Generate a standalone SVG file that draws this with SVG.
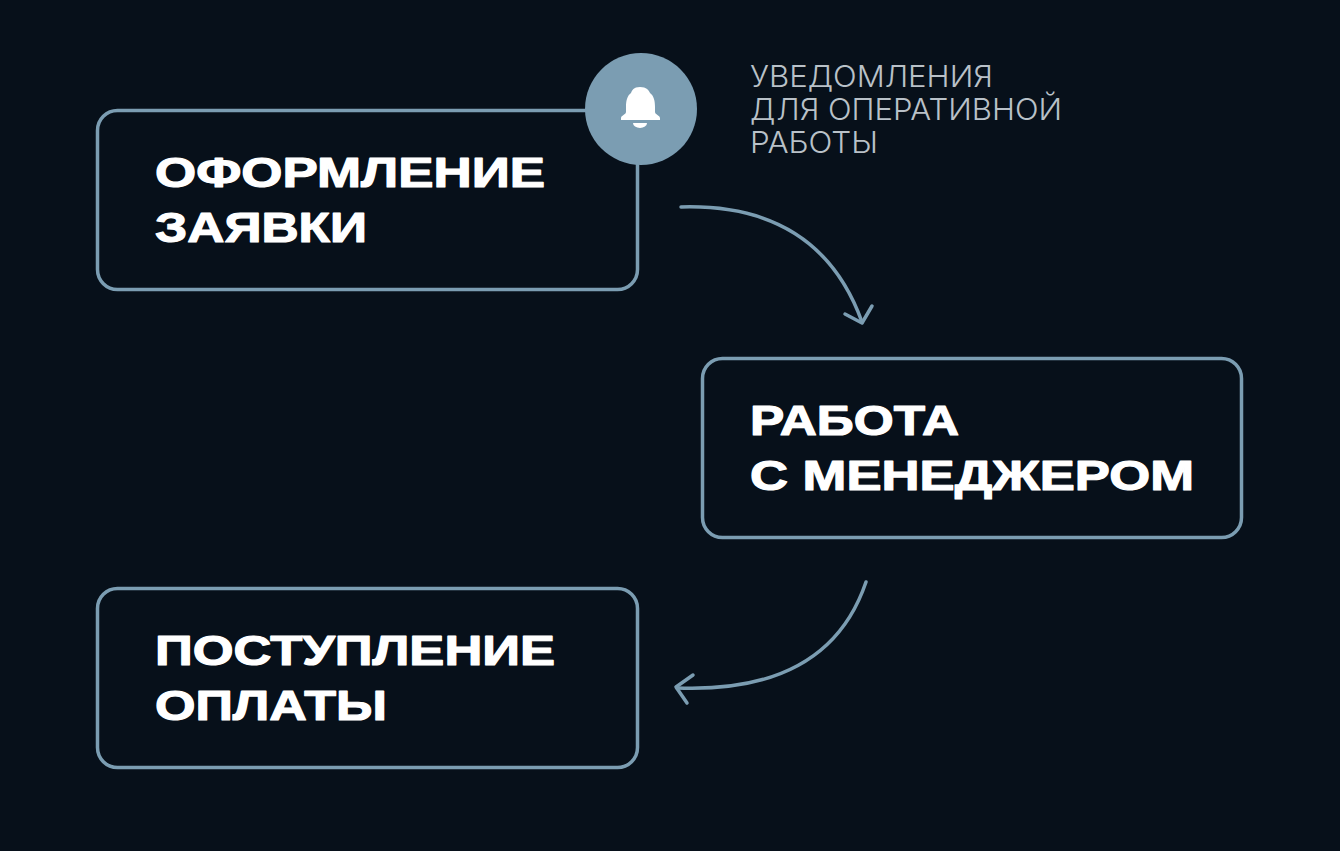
<svg xmlns="http://www.w3.org/2000/svg" width="1340" height="851" viewBox="0 0 1340 851">
  <defs>
    <style>
      .box { fill: #07101a; stroke: #7b9db2; stroke-width: 3.5; }
      .title { font-family: "Liberation Sans", "DejaVu Sans", sans-serif; font-weight: bold; font-size: 43px; fill: #ffffff; stroke: #ffffff; stroke-width: 1.2; stroke-linejoin: round; }
      .note { font-family: "Inter", "Liberation Sans", sans-serif; font-weight: 300; font-size: 30px; fill: #b9c1c8; }
      .conn { fill: none; stroke: #7b9db2; stroke-width: 3.5; stroke-linecap: round; stroke-linejoin: round; }
    </style>
  </defs>
  <rect x="0" y="0" width="1340" height="851" fill="#07101a"/>

  <g id="connectors">
    <path class="conn" d="M681,207 Q819,203 862,322"/>
    <path class="conn" d="M845,314 L862,323 L872,306"/>
    <path class="conn" d="M866,582 Q828,694 677,688"/>
    <path class="conn" d="M693,675 L676,687 L687,703"/>
  </g>

  <g id="node-application">
    <rect class="box" x="97.5" y="110.5" width="540" height="179" rx="20" ry="20"/>
    <text class="title" x="155" y="187" textLength="390" lengthAdjust="spacingAndGlyphs">ОФОРМЛЕНИЕ</text>
    <text class="title" x="155" y="242" textLength="212" lengthAdjust="spacingAndGlyphs">ЗАЯВКИ</text>
  </g>

  <g id="node-notification">
    <circle cx="641" cy="109" r="56" fill="#7b9db2"/>
    <path fill="#ffffff" d="M640,87 C633.5,87 632,90.5 631,93 C627,96 626,101 626,107 L626,112 C626,114.5 621,115.5 621,118 L621,120 L660,120 L660,118 C660,115.5 655,114.5 655,112 L655,107 C655,101 654,96 650,93 C649,90.5 646.5,87 640,87 Z"/>
    <path fill="#ffffff" d="M633,123 L647,123 A7,5 0 0 1 633,123 Z"/>
    <text class="note" x="750" y="87" textLength="243" lengthAdjust="spacingAndGlyphs">УВЕДОМЛЕНИЯ</text>
    <text class="note" x="750" y="120" textLength="312" lengthAdjust="spacingAndGlyphs">ДЛЯ ОПЕРАТИВНОЙ</text>
    <text class="note" x="750" y="153" textLength="128" lengthAdjust="spacingAndGlyphs">РАБОТЫ</text>
  </g>

  <g id="node-manager">
    <rect class="box" x="702.5" y="358.5" width="539" height="179" rx="20" ry="20"/>
    <text class="title" x="750" y="435" textLength="209" lengthAdjust="spacingAndGlyphs">РАБОТА</text>
    <text class="title" x="750" y="490" textLength="444" lengthAdjust="spacingAndGlyphs">С МЕНЕДЖЕРОМ</text>
  </g>

  <g id="node-payment">
    <rect class="box" x="97.5" y="588.5" width="540" height="179" rx="20" ry="20"/>
    <text class="title" x="155" y="665" textLength="400" lengthAdjust="spacingAndGlyphs">ПОСТУПЛЕНИЕ</text>
    <text class="title" x="155" y="720" textLength="232" lengthAdjust="spacingAndGlyphs">ОПЛАТЫ</text>
  </g>
</svg>
